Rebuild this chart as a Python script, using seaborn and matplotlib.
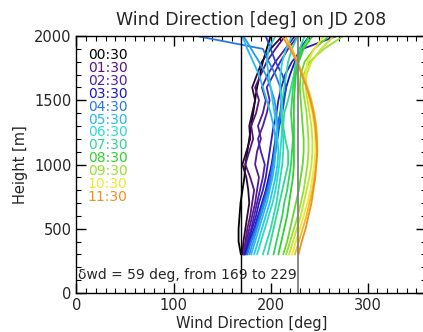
import numpy as np
import pandas as pd
import matplotlib
matplotlib.use("Agg")
import matplotlib.pyplot as plt
from matplotlib.colors import LinearSegmentedColormap
from matplotlib.ticker import MultipleLocator
import seaborn as sns

# Profile heights [m]
heights = [300, 400, 500, 600, 700, 800, 900, 1000, 1100, 1200,
           1300, 1400, 1500, 1600, 1700, 1800, 1900, 2000]

# Profile times (every half hour), hourly ones are labelled
times = ["00:30", "01:00", "01:30", "02:00", "02:30", "03:00", "03:30", "04:00",
         "04:30", "05:00", "05:30", "06:00", "06:30", "07:00", "07:30", "08:00",
         "08:30", "09:00", "09:30", "10:00", "10:30", "11:00", "11:30"]

# Wind direction [deg] per profile, bottom to top
wd_0030 = [169.4, 167, 167, 168, 169, 171, 173, 174, 176, 178, 180, 182, 184, 186, 189, 192, 196, 200]
wd_0100 = [171, 172, 174, 176, 178, 177, 175, 171, 175, 179, 178, 181, 184, 181, 186, 191, 200, 212]
wd_0130 = [172, 174, 176, 179, 181, 183, 179, 174, 178, 182, 180, 185, 188, 184, 190, 196, 205, 215]
wd_0200 = [172, 175, 178, 181, 184, 186, 188, 184, 186, 190, 187, 192, 195, 191, 197, 205, 215, 225]
wd_0230 = [173, 176, 180, 183, 186, 189, 192, 194, 190, 187, 192, 196, 199, 196, 203, 210, 218, 228]
wd_0300 = [173, 177, 181, 185, 188, 192, 195, 197, 199, 201, 203, 206, 208, 211, 215, 222, 233, 268]
wd_0330 = [174, 178, 183, 187, 191, 195, 198, 201, 203, 205, 207, 210, 213, 216, 220, 225, 230, 240]
wd_0400 = [175, 179, 184, 188, 192, 196, 200, 203, 205, 207, 209, 212, 214, 216, 212, 205, 200, 195]
wd_0430 = [176, 180, 185, 189, 193, 197, 200, 202, 204, 206, 208, 210, 211, 210, 205, 198, 192, 124]
wd_0500 = [178, 182, 186, 190, 194, 198, 201, 203, 205, 206, 207, 206, 204, 200, 195, 188, 180, 172]
wd_0530 = [180, 184, 188, 192, 196, 199, 202, 204, 205, 205, 203, 200, 196, 192, 188, 182, 176, 171]
wd_0600 = [183, 187, 191, 195, 199, 202, 205, 207, 208, 207, 206, 204, 202, 200, 198, 196, 198, 205]
wd_0630 = [186, 190, 194, 198, 202, 205, 207, 209, 210, 211, 212, 212, 211, 210, 210, 212, 216, 222]
wd_0700 = [192, 196, 200, 203, 206, 208, 210, 212, 213, 213, 212, 211, 212, 214, 216, 218, 222, 228]
wd_0730 = [197, 200, 203, 206, 209, 212, 215, 218, 218, 215, 213, 214, 218, 221, 224, 226, 230, 235]
wd_0800 = [203, 206, 209, 212, 214, 217, 219, 221, 222, 223, 222, 221, 222, 223, 225, 228, 232, 240]
wd_0830 = [208, 211, 214, 217, 219, 221, 223, 224, 224, 224, 224, 224, 224, 225, 226, 229, 234, 243]
wd_0900 = [213, 217, 220, 223, 226, 229, 231, 233, 234, 234, 233, 232, 231, 230, 231, 235, 245, 260]
wd_0930 = [216, 220, 224, 228, 231, 234, 236, 238, 239, 239, 238, 237, 235, 233, 234, 240, 255, 275]
wd_1000 = [219, 223, 227, 231, 234, 237, 240, 242, 243, 243, 242, 240, 238, 236, 237, 242, 252, 265]
wd_1030 = [222, 226, 230, 234, 238, 241, 243, 245, 246, 246, 245, 243, 240, 237, 236, 238, 245, 255]
wd_1100 = [225, 229, 233, 237, 240, 243, 245, 247, 248, 248, 247, 245, 242, 238, 233, 228, 222, 215]
wd_1130 = [228.6, 232, 236, 239, 242, 244, 246, 247, 248, 247, 246, 244, 241, 237, 232, 227, 220, 212]

profiles = [wd_0030, wd_0100, wd_0130, wd_0200, wd_0230, wd_0300, wd_0330, wd_0400,
            wd_0430, wd_0500, wd_0530, wd_0600, wd_0630, wd_0700, wd_0730, wd_0800,
            wd_0830, wd_0900, wd_0930, wd_1000, wd_1030, wd_1100, wd_1130]

rows = []
for t, prof in zip(times, profiles):
    for h, d in zip(heights, prof):
        rows.append({"time": t, "height": h, "wd": d})
df = pd.DataFrame(rows)

# Spread of the profiles at the lowest level
lowest = df[df["height"] == heights[0]]["wd"]
wd_min, wd_max = lowest.min(), lowest.max()

# Rainbow palette: black -> purple -> blue -> cyan -> green -> yellow -> orange
anchors = ["#000000", "#5a1480", "#4a22b0", "#1818c8", "#2878e8", "#28b8f0",
           "#30d8d0", "#30d890", "#30d030", "#98e030", "#f0e830", "#f09020"]
cmap = LinearSegmentedColormap.from_list("rainbow_idl", anchors)
palette = {t: cmap(i / (len(times) - 1)) for i, t in enumerate(times)}

sns.set_style("ticks")
plt.rcParams["font.family"] = ["DejaVu Sans"]

fig = plt.figure(figsize=(4.23, 3.32), dpi=100)
ax = fig.add_axes([0.1806, 0.1175, 0.8265, 0.774])

sns.lineplot(data=df, x="wd", y="height", hue="time", palette=palette,
             orient="y", estimator=None, sort=True, legend=False,
             linewidth=1.3, ax=ax)

ax.axvline(wd_min, color="black", linewidth=1.0)
ax.axvline(wd_max, color="#808080", linewidth=1.3)

ax.set_xlim(0, 360)
ax.set_ylim(0, 2000)
ax.xaxis.set_major_locator(MultipleLocator(100))
ax.xaxis.set_minor_locator(MultipleLocator(10))
ax.yaxis.set_major_locator(MultipleLocator(500))
ax.yaxis.set_minor_locator(MultipleLocator(100))
ax.tick_params(which="both", direction="in", top=True, right=True,
               labelsize=10.5, color="black")
ax.tick_params(which="major", length=7, width=1)
ax.tick_params(which="minor", length=3.5, width=0.8)
for s in ax.spines.values():
    s.set_linewidth(1.0)
    s.set_color("black")

ax.set_xlabel("Wind Direction [deg]", fontsize=10.5, labelpad=2)
ax.set_ylabel("Height [m]", fontsize=10.5, labelpad=4)
ax.set_title("Wind Direction [deg] on JD 208", fontsize=12.5, pad=8)

# Hourly labels in the profile colours
for k, t in enumerate(times[::2]):
    ax.text(0.033, 0.926 - k * 0.0502, t, transform=ax.transAxes,
            color=palette[t], fontsize=10, va="center", ha="left")

ax.text(0.005, 0.07,
        f"\u03b4wd = {int(wd_max - wd_min)} deg, from {round(wd_min)} to {round(wd_max)}",
        transform=ax.transAxes, fontsize=10, va="center", ha="left")

fig.savefig("out.png", dpi=100)
